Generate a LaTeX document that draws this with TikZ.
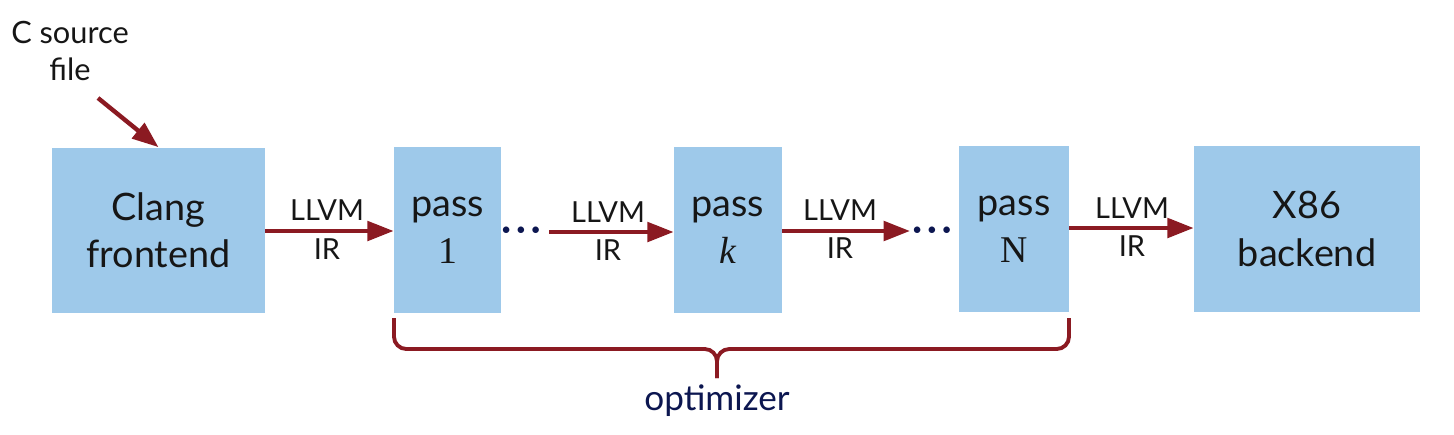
\documentclass[tikz,border=0pt]{standalone}
\usepackage{fontspec}
\setmainfont{Lato}
\newfontfamily\serifnum{Liberation Serif}
\usetikzlibrary{arrows.meta}
\definecolor{boxblue}{RGB}{158,201,234}
\definecolor{darkred}{RGB}{139,26,34}
\definecolor{navy}{RGB}{12,22,80}
\definecolor{txt}{RGB}{22,22,22}
\tikzset{
  stage/.style={fill=boxblue, draw=none, inner sep=0pt, align=center, text=txt,
    font=\fontsize{21.5}{27}\selectfont, minimum height=3.32cm},
  flow/.style={draw=darkred, line width=2.5pt, -{Triangle[length=15pt,width=11pt]}},
  lbl/.style={text=txt, font=\fontsize{16.5}{18}\selectfont, inner sep=0pt},
  dotsnode/.style={text=navy, font=\fontsize{10}{10}\selectfont, inner sep=0pt},
  bracepath/.style={draw=darkred, line width=2.2pt, rounded corners=7pt},
}
\newcommand{\mydots}{\textbullet\hspace{2.6pt}\textbullet\hspace{2.6pt}\textbullet}
\begin{document}
\begin{tikzpicture}[x=0.02cm, y=-0.02cm]
\useasboundingbox (0,0) rectangle (1454,434);

% stages
\node[stage, minimum width=4.26cm] (clang) at (158.5,230.5) {Clang\\frontend};
\node[stage, minimum width=2.14cm] (p1) at (447.5,230) {pass\\{\serifnum 1}};
\node[stage, minimum width=2.16cm] (pk) at (728,230) {pass\\{\serifnum\itshape k}};
\node[stage, minimum width=2.2cm] (pN) at (1014,229) {pass\\{\serifnum N}};
\node[stage, minimum width=4.52cm] (x86) at (1307,229) {X86\\backend};

% source
\node[text=txt, align=center, font=\fontsize{17.5}{21}\selectfont, inner sep=0pt] (src) at (70,51) {C source\\file};
\coordinate (srcstart) at (98,98);
\draw[flow] (srcstart) -- (clang.north);

% dots
\node[dotsnode] (d1) at (521,231) {\mydots};
\node[dotsnode] (d2) at (932,231) {\mydots};
\coordinate (a2s) at (549,232);
\coordinate (a3e) at (910,231);

% arrows
\draw[flow] (clang.east |- 0,231) -- (p1.west |- 0,231);
\draw[flow] (a2s) -- (pk.west |- a2s);
\draw[flow] (pk.east |- a3e) -- (a3e);
\draw[flow] (pN.east |- 0,228) -- (x86.west |- 0,228);

% labels
\node[lbl] (l1a) at (327,210) {LLVM};
\node[lbl] (l1b) at (327,249) {IR};
\node[lbl] (l2a) at (608,212) {LLVM};
\node[lbl] (l2b) at (608,250) {IR};
\node[lbl] (l3a) at (840,210) {LLVM};
\node[lbl] (l3b) at (840,248) {IR};
\node[lbl] (l4a) at (1132,208) {LLVM};
\node[lbl] (l4b) at (1132,246) {IR};

% brace
\coordinate (bl) at (394,318);
\coordinate (br) at (1069,318);
\coordinate (bm) at (717,349);
\coordinate (btip) at (717,378);
\draw[bracepath] (bl) -- (bl |- bm) -- (bm) -- (btip);
\draw[bracepath] (br) -- (br |- bm) -- (bm) -- (btip);
\node[text=navy, font=\fontsize{20}{22}\selectfont, inner sep=0pt] (opt) at (717,401) {optimizer};
\end{tikzpicture}
\end{document}
